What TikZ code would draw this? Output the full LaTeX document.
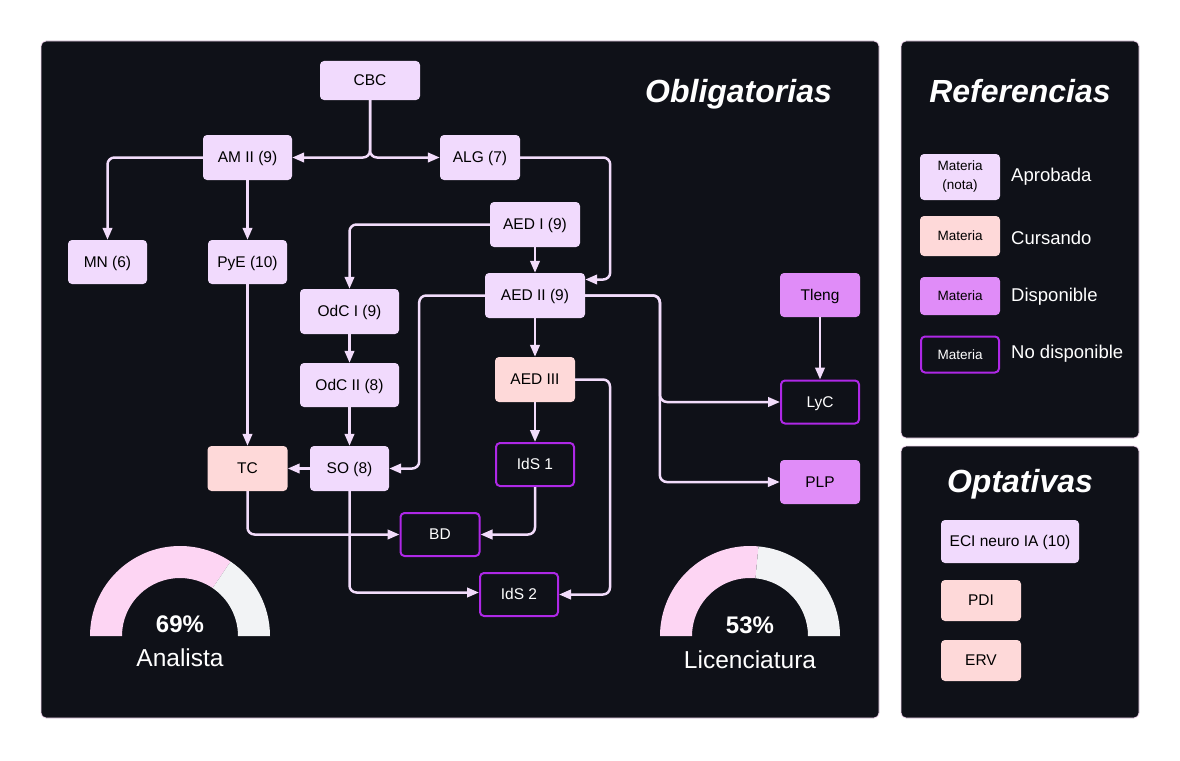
\documentclass[tikz,border=0pt]{standalone}
\usepackage{fontspec}
\setmainfont{Liberation Sans}
\usetikzlibrary{arrows.meta,calc}
\definecolor{bgdark}{HTML}{0F1118}
\definecolor{panelb}{HTML}{F3D8F0}
\definecolor{apr}{HTML}{F1DAFD}
\definecolor{cur}{HTML}{FED9D9}
\definecolor{disp}{HTML}{E08CF8}
\definecolor{nodb}{HTML}{AE28E6}
\definecolor{lin}{HTML}{F2DCFB}
\definecolor{gpink}{HTML}{FDD5F3}
\definecolor{ggrey}{HTML}{F2F3F5}
\tikzset{
  subj/.style={rounded corners=4pt, inner sep=0pt, text height=12pt, text depth=2pt,
    font=\fontsize{15.5}{18}\selectfont, text=black},
  apr/.style={subj, fill=apr},
  cur/.style={subj, fill=cur},
  disp/.style={subj, fill=disp},
  nodisp/.style={subj, draw=nodb, line width=2pt, fill=bgdark, text=white},
  legbox/.style={rounded corners=4pt, inner sep=0pt, minimum width=80pt, font=\fontsize{13.5}{19}\selectfont, text=black, align=center},
  leglabel/.style={anchor=west, inner sep=0pt, text=white, font=\fontsize{18.5}{22}\selectfont},
  conn/.style={draw=lin, line width=2.5pt, rounded corners=7pt, -{Triangle[length=12pt,width=9.5pt]}},
  panel/.style={fill=bgdark, draw=panelb, line width=0.8pt, rounded corners=5pt},
  ptitle/.style={anchor=base, inner sep=0pt, text=white, font=\fontsize{32}{36}\selectfont\bfseries\itshape},
  pct/.style={anchor=base, inner sep=0pt, text=white, font=\fontsize{24}{28}\selectfont\bfseries},
  glabel/.style={anchor=base, inner sep=0pt, text=white, font=\fontsize{24.5}{28}\selectfont},
}
\begin{document}
\begin{tikzpicture}[x=1pt,y=-1pt]
\fill[white] (0,0) rectangle (1180,760);
\useasboundingbox (0,0) rectangle (1180,760);
% panels
\draw[panel] (41,41) rectangle (879,718);
\draw[panel] (901,41) rectangle (1139,438);
\draw[panel] (901,446) rectangle (1139,718);
\node[ptitle] (tobl) at (738.5,102) {Obligatorias};
\node[ptitle] (tref) at (1020,102) {Referencias};
\node[ptitle] (topt) at (1020,492) {Optativas};

% subjects
\node[apr, minimum width=100pt, minimum height=39pt] (cbc) at (370,80.5) {CBC};
\node[apr, minimum width=89pt, minimum height=45pt] (am) at (247.5,157.5) {AM II (9)};
\node[apr, minimum width=80pt, minimum height=45pt] (alg) at (480,157.5) {ALG (7)};
\node[apr, minimum width=79pt, minimum height=44pt] (mn) at (107.5,262) {MN (6)};
\node[apr, minimum width=79pt, minimum height=44pt] (pye) at (247.5,262) {PyE (10)};
\node[apr, minimum width=90pt, minimum height=45pt] (aed1) at (535,224.5) {AED I (9)};
\node[apr, minimum width=100pt, minimum height=45pt] (aed2) at (535,295.5) {AED II (9)};
\node[apr, minimum width=99pt, minimum height=45pt] (odc1) at (349.5,311.5) {OdC I (9)};
\node[apr, minimum width=99pt, minimum height=44pt] (odc2) at (349.5,385) {OdC II (8)};
\node[cur, minimum width=80pt, minimum height=45pt] (aed3) at (535,379.5) {AED III};
\node[disp, minimum width=80pt, minimum height=44pt] (tleng) at (820,295) {Tleng};
\node[nodisp, minimum width=78pt, minimum height=43pt] (lyc) at (820,402) {LyC};
\node[disp, minimum width=80pt, minimum height=44pt] (plp) at (820,482) {PLP};
\node[cur, minimum width=80pt, minimum height=45pt] (tc) at (247.5,468.5) {TC};
\node[apr, minimum width=79pt, minimum height=45pt] (so) at (349.5,468.5) {SO (8)};
\node[nodisp, minimum width=78pt, minimum height=43pt] (ids1) at (535,464.5) {IdS 1};
\node[nodisp, minimum width=79pt, minimum height=43pt] (bd) at (440,534.5) {BD};
\node[nodisp, minimum width=78pt, minimum height=43pt] (ids2) at (519,594.5) {IdS 2};

% connectors
\draw[conn] (cbc.south) |- (am.east);
\draw[conn] (cbc.south) |- (alg.west);
\draw[conn] (am.west) -| (mn.north);
\draw[conn] (am.south) -- (pye.north);
\draw[conn] (alg.east) -| ($(aed2.east)+(25,-16)$) -- ($(aed2.east)+(0,-16)$);
\draw[conn] (aed1.west) -| (odc1.north);
\draw[conn] (aed1.south) -- (aed2.north);
\draw[conn] (aed2.west) -| ($(so.east)+(30,0)$) -- (so.east);
\draw[conn] (aed2.south) -- (aed3.north);
\draw[conn] (aed2.east) -| ($(lyc.west)+(-120,0)$) -- (lyc.west);
\draw[conn] (aed2.east) -| ($(plp.west)+(-120,0)$) -- (plp.west);
\draw[conn] (aed3.south) -- (ids1.north);
\draw[conn] (aed3.east) -| ($(ids2.east)+(51,0)$) -- (ids2.east);
\draw[conn] (tleng.south) -- (lyc.north);
\draw[conn] (odc1.south) -- (odc2.north);
\draw[conn] (odc2.south) -- (so.north);
\draw[conn] (pye.south) -- (tc.north);
\draw[conn] (so.west) -- (tc.east);
\draw[conn] (tc.south) |- (bd.west);
\draw[conn] (ids1.south) |- (bd.east);
\draw[conn] (so.south) |- ($(ids2.west)+(0,-2)$);

% gauges
\fill[gpink] (90,636) arc[start angle=180,end angle=304.2,radius=90]
  -- ($(180,636)+(304.2:58)$) arc[start angle=304.2,end angle=180,radius=58] -- cycle;
\fill[ggrey] ($(180,636)+(304.2:90)$) arc[start angle=304.2,end angle=360,radius=90]
  -- (238,636) arc[start angle=360,end angle=304.2,radius=58] -- cycle;
\node[pct] (p1) at (180,632) {69\%};
\node[glabel] (g1) at (180,666) {Analista};
\fill[gpink] (660,636) arc[start angle=180,end angle=275.4,radius=90]
  -- ($(750,636)+(275.4:58)$) arc[start angle=275.4,end angle=180,radius=58] -- cycle;
\fill[ggrey] ($(750,636)+(275.4:90)$) arc[start angle=275.4,end angle=360,radius=90]
  -- (808,636) arc[start angle=360,end angle=275.4,radius=58] -- cycle;
\node[pct] (p2) at (750,633) {53\%};
\node[glabel] (g2) at (750,668) {Licenciatura};

% legend
\node[legbox, fill=apr, minimum height=46pt] (l1) at (960,177) {Materia\\(nota)};
\node[legbox, fill=cur, minimum height=40pt] (l2) at (960,236) {Materia};
\node[legbox, fill=disp, minimum height=38pt] (l3) at (960,296) {Materia};
\node[legbox, draw=nodb, line width=2pt, fill=bgdark, text=white, minimum width=78pt, minimum height=36pt] (l4) at (960,354.5) {Materia};
\node[leglabel] (t1) at (1011,177) {Aprobada};
\node[leglabel] (t2) at (1011,238) {Cursando};
\node[leglabel] (t3) at (1011,297) {Disponible};
\node[leglabel] (t4) at (1011,354) {No disponible};

% optativas
\node[apr, minimum width=138pt, minimum height=43pt] (eci) at (1010,541.5) {ECI neuro IA (10)};
\node[cur, minimum width=80pt, minimum height=41pt] (pdi) at (981,600.5) {PDI};
\node[cur, minimum width=80pt, minimum height=41pt] (erv) at (981,660.5) {ERV};
\end{tikzpicture}
\end{document}
